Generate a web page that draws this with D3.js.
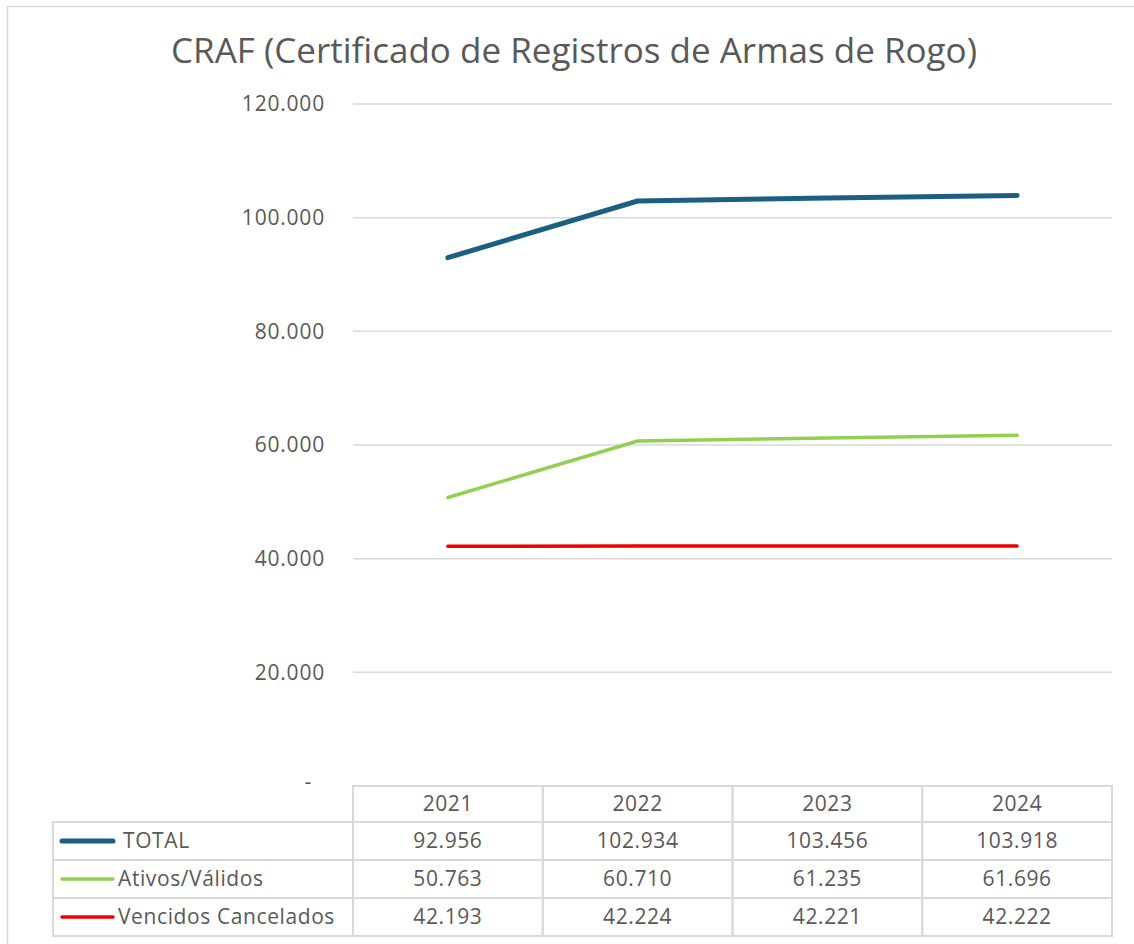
<!DOCTYPE html>
<html>
<head>
<meta charset="utf-8">
<style>
  body { margin: 0; background: #fff; }
  svg text { font-family: "Open Sans", "Liberation Sans", sans-serif; fill: #595959; }
  .grid line { stroke: #d9d9d9; stroke-width: 1.5; }
  .cell { fill: none; stroke: #d9d9d9; stroke-width: 2; }
  .tbl text { font-size: 21px; letter-spacing: 0.6px; }
</style>
<script src="https://d3js.org/d3.v7.min.js"></script>
</head>
<body>
<svg width="1134" height="944"></svg>
<script>
var years = ["2021", "2022", "2023", "2024"];
var seriesNames = ["TOTAL", "Ativos/Válidos", "Vencidos Cancelados"];
var total = [92956, 102934, 103456, 103918];
var ativos = [50763, 60710, 61235, 61696];
var vencidos = [42193, 42224, 42221, 42222];
var yTicks = [0, 20000, 40000, 60000, 80000, 100000, 120000];

var colors = ["#1b6082", "#92d050", "#ee0000"];
var widths = [5, 3.5, 3.5];
var seriesVals = [total, ativos, vencidos];

var svg = d3.select("svg");

// outer frame
svg.append("rect")
  .attr("x", 7.5).attr("y", 6.5)
  .attr("width", 1140).attr("height", 950)
  .attr("fill", "none").attr("stroke", "#d9d9d9").attr("stroke-width", 1.5);

svg.append("text")
  .attr("x", 574).attr("y", 63)
  .attr("text-anchor", "middle")
  .style("font-size", "35px")
  .text("CRAF (Certificado de Registros de Armas de Rogo)");

var x = d3.scaleBand().domain(years).range([353, 1112]);
var y = d3.scaleLinear().domain([0, 120000]).range([786, 104]);

var loc = d3.formatLocale({ decimal: ",", thousands: ".", grouping: [3], currency: ["", ""] });
var fmt = loc.format(",.0f");

// gridlines
var grid = svg.append("g").attr("class", "grid");
grid.selectAll("line").data(yTicks.filter(function(d) { return d > 0; }))
  .enter().append("line")
  .attr("x1", 353).attr("x2", 1112)
  .attr("y1", function(d) { return y(d); })
  .attr("y2", function(d) { return y(d); });

var yAxis = d3.axisLeft(y).tickValues(yTicks).tickSize(0).tickPadding(28)
  .tickFormat(function(d) { return d === 0 ? "-" : fmt(d); });
var ya = svg.append("g").attr("transform", "translate(353,0)").call(yAxis);
ya.select(".domain").remove();
ya.selectAll("text").style("font-size", "21px").style("letter-spacing", "0.8px")
  .attr("fill", "#595959")
  .attr("dx", function(d) { return d === 0 ? "-13px" : 0; })
  .attr("dy", function(d) { return d === 0 ? "0.1em" : "0.32em"; });

// lines
var line = d3.line()
  .x(function(d, i) { return x(years[i]) + x.bandwidth() / 2; })
  .y(function(d) { return y(d); });

seriesVals.forEach(function(vals, k) {
  svg.append("path")
    .datum(vals)
    .attr("d", line)
    .attr("fill", "none")
    .attr("stroke", colors[k])
    .attr("stroke-width", widths[k])
    .attr("stroke-linecap", "round")
    .attr("stroke-linejoin", "round");
});

// data table
var rowTop = [786, 822, 860, 898, 936];
var tbl = svg.append("g").attr("class", "tbl");

// header row
years.forEach(function(yr) {
  tbl.append("rect").attr("class", "cell")
    .attr("x", x(yr)).attr("y", rowTop[0])
    .attr("width", x.bandwidth()).attr("height", rowTop[1] - rowTop[0]);
  tbl.append("text")
    .attr("x", x(yr) + x.bandwidth() / 2)
    .attr("y", (rowTop[0] + rowTop[1]) / 2)
    .attr("dy", "0.35em").attr("text-anchor", "middle")
    .text(yr);
});

seriesNames.forEach(function(name, k) {
  var t = rowTop[k + 1], b = rowTop[k + 2], mid = (t + b) / 2;
  tbl.append("rect").attr("class", "cell")
    .attr("x", 53).attr("y", t).attr("width", 300).attr("height", b - t);
  tbl.append("line")
    .attr("x1", 62).attr("x2", 113).attr("y1", mid).attr("y2", mid)
    .attr("stroke", colors[k]).attr("stroke-width", widths[k])
    .attr("stroke-linecap", "round");
  tbl.append("text")
    .attr("x", k === 0 ? 123 : 118).attr("y", mid).attr("dy", "0.35em")
    .text(name);
  years.forEach(function(yr, i) {
    tbl.append("rect").attr("class", "cell")
      .attr("x", x(yr)).attr("y", t)
      .attr("width", x.bandwidth()).attr("height", b - t);
    tbl.append("text")
      .attr("x", x(yr) + x.bandwidth() / 2).attr("y", mid).attr("dy", "0.35em")
      .attr("text-anchor", "middle")
      .text(fmt(seriesVals[k][i]));
  });
});
</script>
</body>
</html>
